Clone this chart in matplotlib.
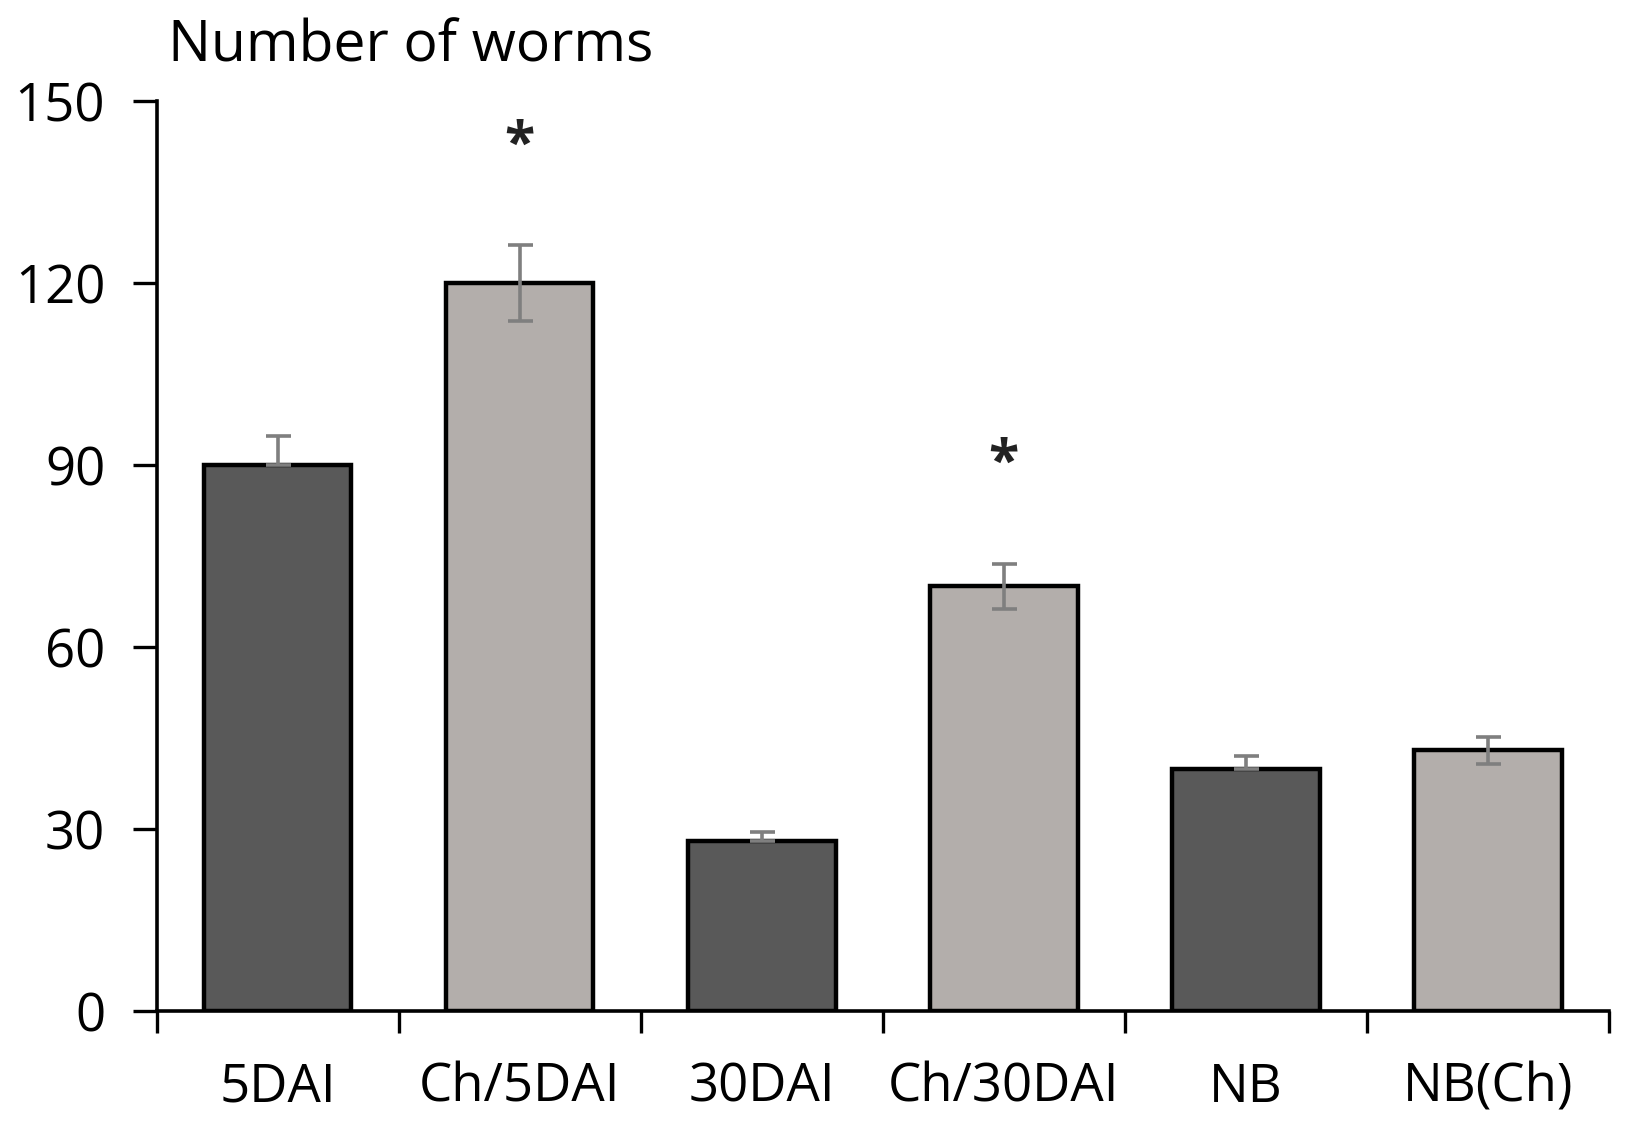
import matplotlib.pyplot as plt

categories = ['5DAI', 'Ch/5DAI', '30DAI', 'Ch/30DAI', 'NB', 'NB(Ch)']
values = [90, 120, 28, 70, 40, 43]
err_low = [0, 6.2, 0, 3.7, 0, 2.2]
err_high = [4.8, 6.2, 1.5, 3.7, 2.0, 2.2]
stars = [None, 142.6, None, 90.2, None, None]
yticks = [0, 30, 60, 90, 120, 150]


def main():
    plt.rcParams['font.family'] = ['Open Sans', 'DejaVu Sans']
    fig = plt.figure(figsize=(16.26, 11.35), dpi=100)
    ax = fig.add_axes([0.0963, 0.109, 0.8932, 0.802])

    colors = ['#595959', '#b3aeab'] * 3
    x = list(range(len(categories)))
    ax.bar(x, values, width=0.61, color=colors, edgecolor='black',
           linewidth=3.2, zorder=2)
    ax.errorbar(x, values, yerr=[err_low, err_high], fmt='none',
                ecolor='#7f7f7f', elinewidth=2.6, capsize=9,
                capthick=2.6, zorder=3)

    for i, s in enumerate(stars):
        if s is not None:
            ax.text(i, s, '*', ha='center', va='center', fontsize=40,
                    fontweight='bold', color='#222222')

    ax.set_xlim(-0.5, len(categories) - 0.5)
    ax.set_ylim(0, 150)
    ax.set_yticks(yticks)
    ax.set_xticks(x)
    ax.set_xticklabels(categories)
    ax.set_xticks([i - 0.5 for i in range(len(categories) + 1)], minor=True)
    ax.tick_params(axis='x', which='major', length=0, pad=36, labelsize=38)
    ax.tick_params(axis='x', which='minor', length=16, width=2.4,
                   direction='out')
    ax.tick_params(axis='y', length=17, width=2.4, pad=20, labelsize=38)

    for side in ['top', 'right']:
        ax.spines[side].set_visible(False)
    for side in ['left', 'bottom']:
        ax.spines[side].set_linewidth(2.6)

    fig.text(168 / 1626, 1 - 62 / 1135, 'Number of worms', fontsize=41,
             ha='left', va='baseline')

    fig.savefig('out.png', dpi=100)


if __name__ == "__main__":
    main()
